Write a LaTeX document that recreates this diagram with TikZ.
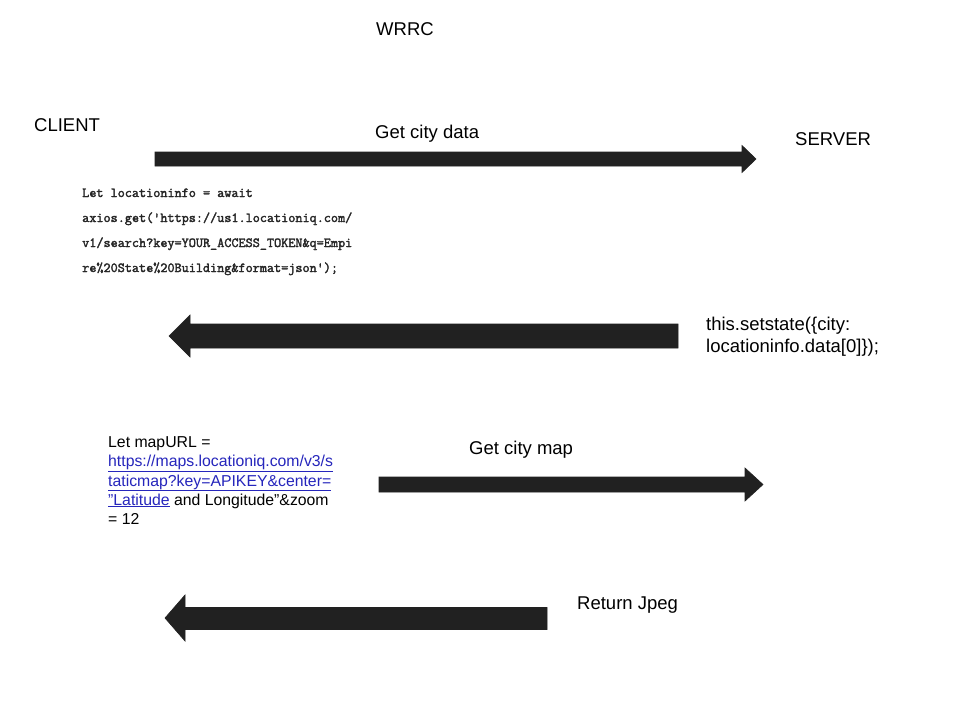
\documentclass[tikz,border=0pt]{standalone}
\usepackage{fontspec}
\setmainfont{Liberation Sans}
\newfontfamily\codefont[FakeBold=2.2]{Latin Modern Mono}
\definecolor{arrowfill}{HTML}{212121}
\definecolor{linkblue}{HTML}{2626BC}
\begin{document}
\begin{tikzpicture}[x=1pt,y=-1pt,
  lbl/.style={anchor=base west,inner sep=0pt,font=\fontsize{18.5}{22}\selectfont},
  codetxt/.style={anchor=base west,inner sep=0pt,text=black!85,font=\codefont\fontsize{13.8}{16}\selectfont},
  smalltxt/.style={anchor=base west,inner sep=0pt,font=\fontsize{15.8}{19}\selectfont},
  blockarrow/.style={fill=arrowfill,draw=arrowfill,line width=0.6pt,line join=miter}]
\useasboundingbox[fill=white] (0,0) rectangle (960,720);

% titles and actors
\node[lbl] (title) at (376,35) {WRRC};
\node[lbl] (client) at (34,131) {CLIENT};
\node[lbl] (server) at (795,145) {SERVER};

% arrow 1: get city data
\coordinate (a1t) at (756,159);
\path[blockarrow] (155,152) -- (742,152) -- (742,145.5) -- (a1t) -- (742,172.5) -- (742,166) -- (155,166) -- cycle;
\node[lbl] (getdata) at (375,138) {Get city data};

% code text
\node[codetxt] (c1) at (82,197) {Let locationinfo = await};
\node[codetxt] (c2) at (82,222) {axios.get('https://us1.locationiq.com/};
\node[codetxt] (c3) at (82,247) {v1/search?key=YOUR\_ACCESS\_TOKEN\&q=Empi};
\node[codetxt] (c4) at (82,272) {re\%20State\%20Building\&format=json');};

% arrow 2: response
\coordinate (a2t) at (169,336);
\path[blockarrow] (678,324) -- (190,324) -- (190,315) -- (a2t) -- (190,357) -- (190,348) -- (678,348) -- cycle;
\node[lbl] (set1) at (706,330) {this.setstate(\{city:};
\node[lbl] (set2) at (706,352.5) {locationinfo.data[0]\});};

% map URL text
\node[smalltxt] (m1) at (108,447) {Let mapURL =};
\node[smalltxt,text=linkblue] (m2) at (108,466.5) {\underline{https://maps.locationiq.com/v3/s}};
\node[smalltxt,text=linkblue] (m3) at (108,486) {\underline{taticmap?key=APIKEY\&center=}};
\node[smalltxt] (m4) at (108,505) {{\color{linkblue}\underline{”Latitude}} and Longitude”\&zoom};
\node[smalltxt] (m5) at (108,524) {= 12};

% arrow 3: get city map
\coordinate (a3t) at (763,484.5);
\path[blockarrow] (379,477) -- (745,477) -- (745,468) -- (a3t) -- (745,501) -- (745,492) -- (379,492) -- cycle;
\node[lbl] (getmap) at (469,454) {Get city map};

% arrow 4: return jpeg
\coordinate (a4t) at (165,618);
\path[blockarrow] (547,607.5) -- (185,607.5) -- (185,595) -- (a4t) -- (185,641) -- (185,629.5) -- (547,629.5) -- cycle;
\node[lbl] (ret) at (577,609) {Return Jpeg};
\end{tikzpicture}
\end{document}
